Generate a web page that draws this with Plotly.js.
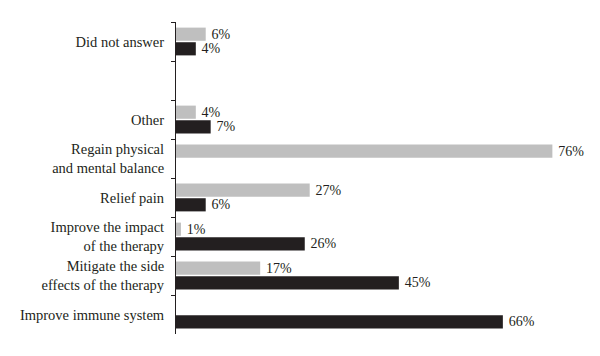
<!DOCTYPE html>
<html>
<head>
<meta charset="utf-8">
<script src="https://cdn.plot.ly/plotly-3.0.1.min.js"></script>
<style>html,body{margin:0;padding:0;background:#fff;}#chart{width:600px;height:356px;}</style>
</head>
<body>
<div id="chart"></div>
<script>
var categories = ["Did not answer", " ", "Other", "Regain physical<br>and mental balance", "Relief pain", "Improve the impact<br>of the therapy", "Mitigate the side<br>effects of the therapy", "Improve immune system"];
var grayValues = [6, null, 4, 76, 27, 1, 17, null];
var blackValues = [4, null, 7, null, 6, 26, 45, 66];

function labels(vals) { return vals.map(function (v) { return v == null ? "" : "\u2009" + v + "%"; }); }

var fontFamily = "'Liberation Serif', 'DejaVu Serif', serif";

var traces = [
  {
    type: "bar", orientation: "h", y: categories, x: grayValues,
    text: labels(grayValues), textposition: "outside", cliponaxis: false, constraintext: "none",
    textfont: { family: fontFamily, size: 14, color: "#231f20" },
    marker: { color: "#bfbfbf", line: { width: 0 } },
    hoverinfo: "none"
  },
  {
    type: "bar", orientation: "h", y: categories, x: blackValues,
    text: labels(blackValues), textposition: "outside", cliponaxis: false, constraintext: "none",
    textfont: { family: fontFamily, size: 14, color: "#231f20" },
    marker: { color: "#231f20", line: { width: 0 } },
    hoverinfo: "none"
  }
];

var layout = {
  width: 600, height: 356,
  margin: { l: 176, r: 8, t: 22, b: 22 },
  paper_bgcolor: "#fff", plot_bgcolor: "#fff",
  barmode: "group", bargap: 0.25, bargroupgap: 0.1,
  showlegend: false,
  font: { family: fontFamily, size: 14, color: "#231f20" },
  xaxis: { range: [0, 84], visible: false, showgrid: false, zeroline: false },
  yaxis: {
    type: "category", categoryorder: "array", categoryarray: categories,
    autorange: "reversed",
    showline: true, linecolor: "#231f20", linewidth: 1,
    ticks: "outside", ticklen: 4, tickcolor: "#231f20", tickwidth: 1,
    tickson: "boundaries", ticklabelstandoff: 8,
    showgrid: false, zeroline: false,
    tickfont: { family: fontFamily, size: 14.5, color: "#231f20" }
  }
};

Plotly.newPlot("chart", traces, layout, { staticPlot: true, displayModeBar: false });
</script>
</body>
</html>
